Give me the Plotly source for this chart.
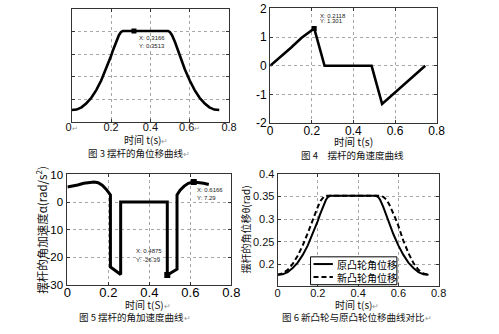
import plotly.graph_objects as go

W, H = 499, 334

# ---------------- data ----------------
# Fig 3 / Fig 6 solid: original cam angular displacement (rad)
disp_t = [0, 0.025, 0.05, 0.075, 0.1, 0.125, 0.15, 0.175, 0.2, 0.21, 0.225, 0.24, 0.25, 0.26,
          0.3166, 0.49, 0.5, 0.51, 0.525, 0.54, 0.55, 0.575, 0.6, 0.625, 0.65, 0.675, 0.7, 0.725, 0.75]
disp_orig = [0.177, 0.178, 0.183, 0.192, 0.204, 0.221, 0.242, 0.267, 0.296, 0.309, 0.327, 0.342, 0.3485, 0.3513,
             0.3513, 0.3513, 0.3485, 0.342, 0.327, 0.309, 0.296, 0.267, 0.242, 0.221, 0.204, 0.192, 0.183, 0.178, 0.177]

# Fig 6 dashed: new cam angular displacement (rad)
new_t = [0, 0.025, 0.05, 0.075, 0.1, 0.125, 0.15, 0.175, 0.2, 0.215, 0.23, 0.24,
         0.51, 0.525, 0.54, 0.555, 0.57, 0.585, 0.6, 0.625, 0.65, 0.675, 0.7, 0.725, 0.75]
new_disp = [0.177, 0.180, 0.188, 0.201, 0.219, 0.242, 0.269, 0.299, 0.327, 0.341, 0.349, 0.3513,
            0.3513, 0.349, 0.343, 0.332, 0.318, 0.302, 0.285, 0.252, 0.225, 0.203, 0.188, 0.180, 0.177]

# Fig 4: angular velocity
vel_t = [0, 0.05, 0.1, 0.15, 0.2118, 0.2615, 0.4875, 0.538, 0.6, 0.65, 0.7, 0.745]
vel = [0, 0.31, 0.63, 0.97, 1.301, 0, 0, -1.33, -0.93, -0.61, -0.3, 0]

# Fig 5: angular acceleration
acc_t = [0, 0.02, 0.05, 0.08, 0.11, 0.13, 0.15, 0.17, 0.19, 0.21, 0.21, 0.26, 0.26, 0.4875, 0.4875,
         0.535, 0.535, 0.55, 0.57, 0.59, 0.6166, 0.64, 0.665, 0.69]
acc = [5.5, 5.7, 6.2, 6.8, 7.2, 7.3, 7.0, 6.1, 4.6, 2.6, -23.5, -26.2, 0, 0, -26.39,
       -24.3, 2.6, 4.3, 5.8, 6.8, 7.29, 7.1, 6.8, 6.4]

# data-tip points
tip3 = (0.3166, 0.3513)
tip4 = (0.2118, 1.301)
tip5a = (0.4875, -26.39)
tip5b = (0.6166, 7.29)

legend_names = ["原凸轮角位移", "新凸轮角位移"]

x_ticks = [0, 0.2, 0.4, 0.6, 0.8]
x_ticktext1 = ["0<span style='font-size:7px;color:#999'>↵</span>", "0.2", "0.4",
               "0.6<span style='font-size:7px;color:#999'>↵</span>", "0.8"]
x_ticktext = ["0", "0.2", "0.4", "0.6", "0.8"]
vel_ticks = [-2, -1, 0, 1, 2]
acc_ticks = [-30, -20, -10, 0, 10]
disp_ticks = [0.2, 0.25, 0.3, 0.35, 0.4]
disp_ticktext = ["0.2", "0.25", "0.3", "0.35", "0.4"]

# ---------------- layout helpers ----------------
def px(x):
    return x / W

def py(y):
    return 1 - y / H

CJK = "Noto Sans CJK SC, Liberation Sans, sans-serif"
SANS = "Liberation Sans, Arial, sans-serif"

fig = go.Figure()

LW = 2.6
fig.add_trace(go.Scatter(x=disp_t, y=disp_orig, mode="lines", line=dict(color="black", width=LW),
                         xaxis="x", yaxis="y", showlegend=False))
fig.add_trace(go.Scatter(x=[tip3[0]], y=[tip3[1]], mode="markers", marker=dict(symbol="square", size=5, color="black"),
                         xaxis="x", yaxis="y", showlegend=False))

fig.add_trace(go.Scatter(x=vel_t, y=vel, mode="lines", line=dict(color="black", width=LW),
                         xaxis="x2", yaxis="y2", showlegend=False))
fig.add_trace(go.Scatter(x=[tip4[0]], y=[tip4[1]], mode="markers", marker=dict(symbol="square", size=5, color="black"),
                         xaxis="x2", yaxis="y2", showlegend=False))

fig.add_trace(go.Scatter(x=acc_t, y=acc, mode="lines", line=dict(color="black", width=3),
                         xaxis="x3", yaxis="y3", showlegend=False))
fig.add_trace(go.Scatter(x=[tip5a[0], tip5b[0]], y=[tip5a[1], tip5b[1]], mode="markers",
                         marker=dict(symbol="square", size=6, color="black"),
                         xaxis="x3", yaxis="y3", showlegend=False))

DASH = "5px,3px"
fig.add_trace(go.Scatter(x=disp_t, y=disp_orig, mode="lines", line=dict(color="black", width=2),
                         xaxis="x4", yaxis="y4", name=legend_names[0], showlegend=False))
fig.add_trace(go.Scatter(x=new_t, y=new_disp, mode="lines", line=dict(color="black", width=2, dash=DASH),
                         xaxis="x4", yaxis="y4", name=legend_names[1], showlegend=False))

def axis(domain, rng, tickvals, ticktext, size, anchor, showlabels=True, color="#111", standoff=0):
    return dict(domain=domain, range=rng, tickvals=tickvals, ticktext=ticktext,
                showticklabels=showlabels, ticks="inside", ticklen=3, tickcolor="#333",
                showline=True, linecolor="#333", linewidth=1, mirror="ticks",
                showgrid=True, gridcolor="#a8a8a8", griddash="dot", gridwidth=1,
                zeroline=False, anchor=anchor, ticklabelstandoff=standoff,
                tickfont=dict(family=SANS, size=size, color=color))

fig.update_layout(
    width=W, height=H, margin=dict(l=0, r=0, t=0, b=0),
    paper_bgcolor="white", plot_bgcolor="white",
    xaxis=axis([px(67.7), px(230)], [0, 0.8], x_ticks, x_ticktext1, 11, "y", standoff=-5),
    yaxis=axis([py(121), py(3)], [0.15, 0.4], disp_ticks, disp_ticktext, 11, "x", showlabels=False),
    xaxis2=axis([px(272.3), px(444)], [0, 0.8], x_ticks, x_ticktext, 12, "y2", color="#000", standoff=-4),
    yaxis2=axis([py(122), py(2.5)], [-2, 2], vel_ticks, [str(v) for v in vel_ticks], 12, "x2", color="#000"),
    xaxis3=axis([px(63.3), px(232.3)], [0, 0.8], x_ticks, x_ticktext, 13, "y3", color="#000", standoff=-5),
    yaxis3=axis([py(290.3), py(175.3)], [-30, 10], acc_ticks, [str(v) for v in acc_ticks], 11.5, "x3",
                color="#000", standoff=1),
    xaxis4=axis([px(280), px(446)], [0, 0.8], x_ticks, x_ticktext, 11, "y4", standoff=-3),
    yaxis4=axis([py(291.5), py(174.5)], [0.152, 0.4], disp_ticks, disp_ticktext, 11, "x4"),
    showlegend=False,
)

ann = []
shapes = []

def text(x, y, s, size=10, family=CJK, xanchor="center", angle=0, color="#111"):
    ann.append(dict(x=px(x), y=py(y), xref="paper", yref="paper", text=s, showarrow=False,
                    xanchor=xanchor, yanchor="middle", textangle=angle,
                    font=dict(family=family, size=size, color=color)))

RET = "<span style='color:#999;font-size:8px'>↵</span>"
# axis titles and captions
text(144, 139, "时间 t(s)" + RET, 10)
text(137, 153, "图 3 摆杆的角位移曲线" + RET, 9.5)
text(358, 141, "时间 t(s)", 10.5)
text(357, 155, "图 4　摆杆的角速度曲线", 9.5)
text(146, 311, "时间 t(S)" + RET, 10)
text(133, 324, "图 5 摆杆的角加速度曲线" + RET, 9.5)
text(362, 311, "时间 t(s)" + RET, 10)
text(362, 324, "图 6 新凸轮与原凸轮位移曲线对比" + RET, 9.5)
text(37, 233, "摆杆的角加速度α(rad/s<sup>2</sup>)", 11.5, angle=-90)
text(247, 233, "摆杆的角位移θ(rad)", 10, angle=-90)

# data tips
TIP = 6
text(135, 33, "X: 0.3166", TIP, SANS, "left", color="#222")
text(135, 42, "Y: 0.3513", TIP, SANS, "left", color="#222")
text(322, 10, "X: 0.2118", TIP, SANS, "left", color="#222")
text(322, 16, "Y: 1.301", TIP, SANS, "left", color="#222")
text(132, 255, "X: 0.4875", TIP, SANS, "left", color="#222")
text(132, 264, "Y: -26.39", TIP, SANS, "left", color="#222")
text(195, 191, "X: 0.6166", TIP, SANS, "left", color="#222")
text(195, 200, "Y: 7.29", TIP, SANS, "left", color="#222")

# legend box (drawn by hand to match the compact MATLAB legend)
shapes.append(dict(type="rect", xref="paper", yref="paper", x0=px(314), x1=px(403), y0=py(290), y1=py(261),
                   line=dict(color="black", width=1), fillcolor="white", layer="above"))
shapes.append(dict(type="line", xref="paper", yref="paper", x0=px(317), x1=px(337), y0=py(268.5), y1=py(268.5),
                   line=dict(color="black", width=2), layer="above"))
shapes.append(dict(type="line", xref="paper", yref="paper", x0=px(317), x1=px(337), y0=py(282), y1=py(282),
                   line=dict(color="black", width=2, dash=DASH), layer="above"))
text(339, 268.5, legend_names[0], 10, CJK, "left", color="#000")
text(339, 282, legend_names[1], 10, CJK, "left", color="#000")

fig.update_layout(annotations=ann, shapes=shapes)
fig.write_html("out.html")
